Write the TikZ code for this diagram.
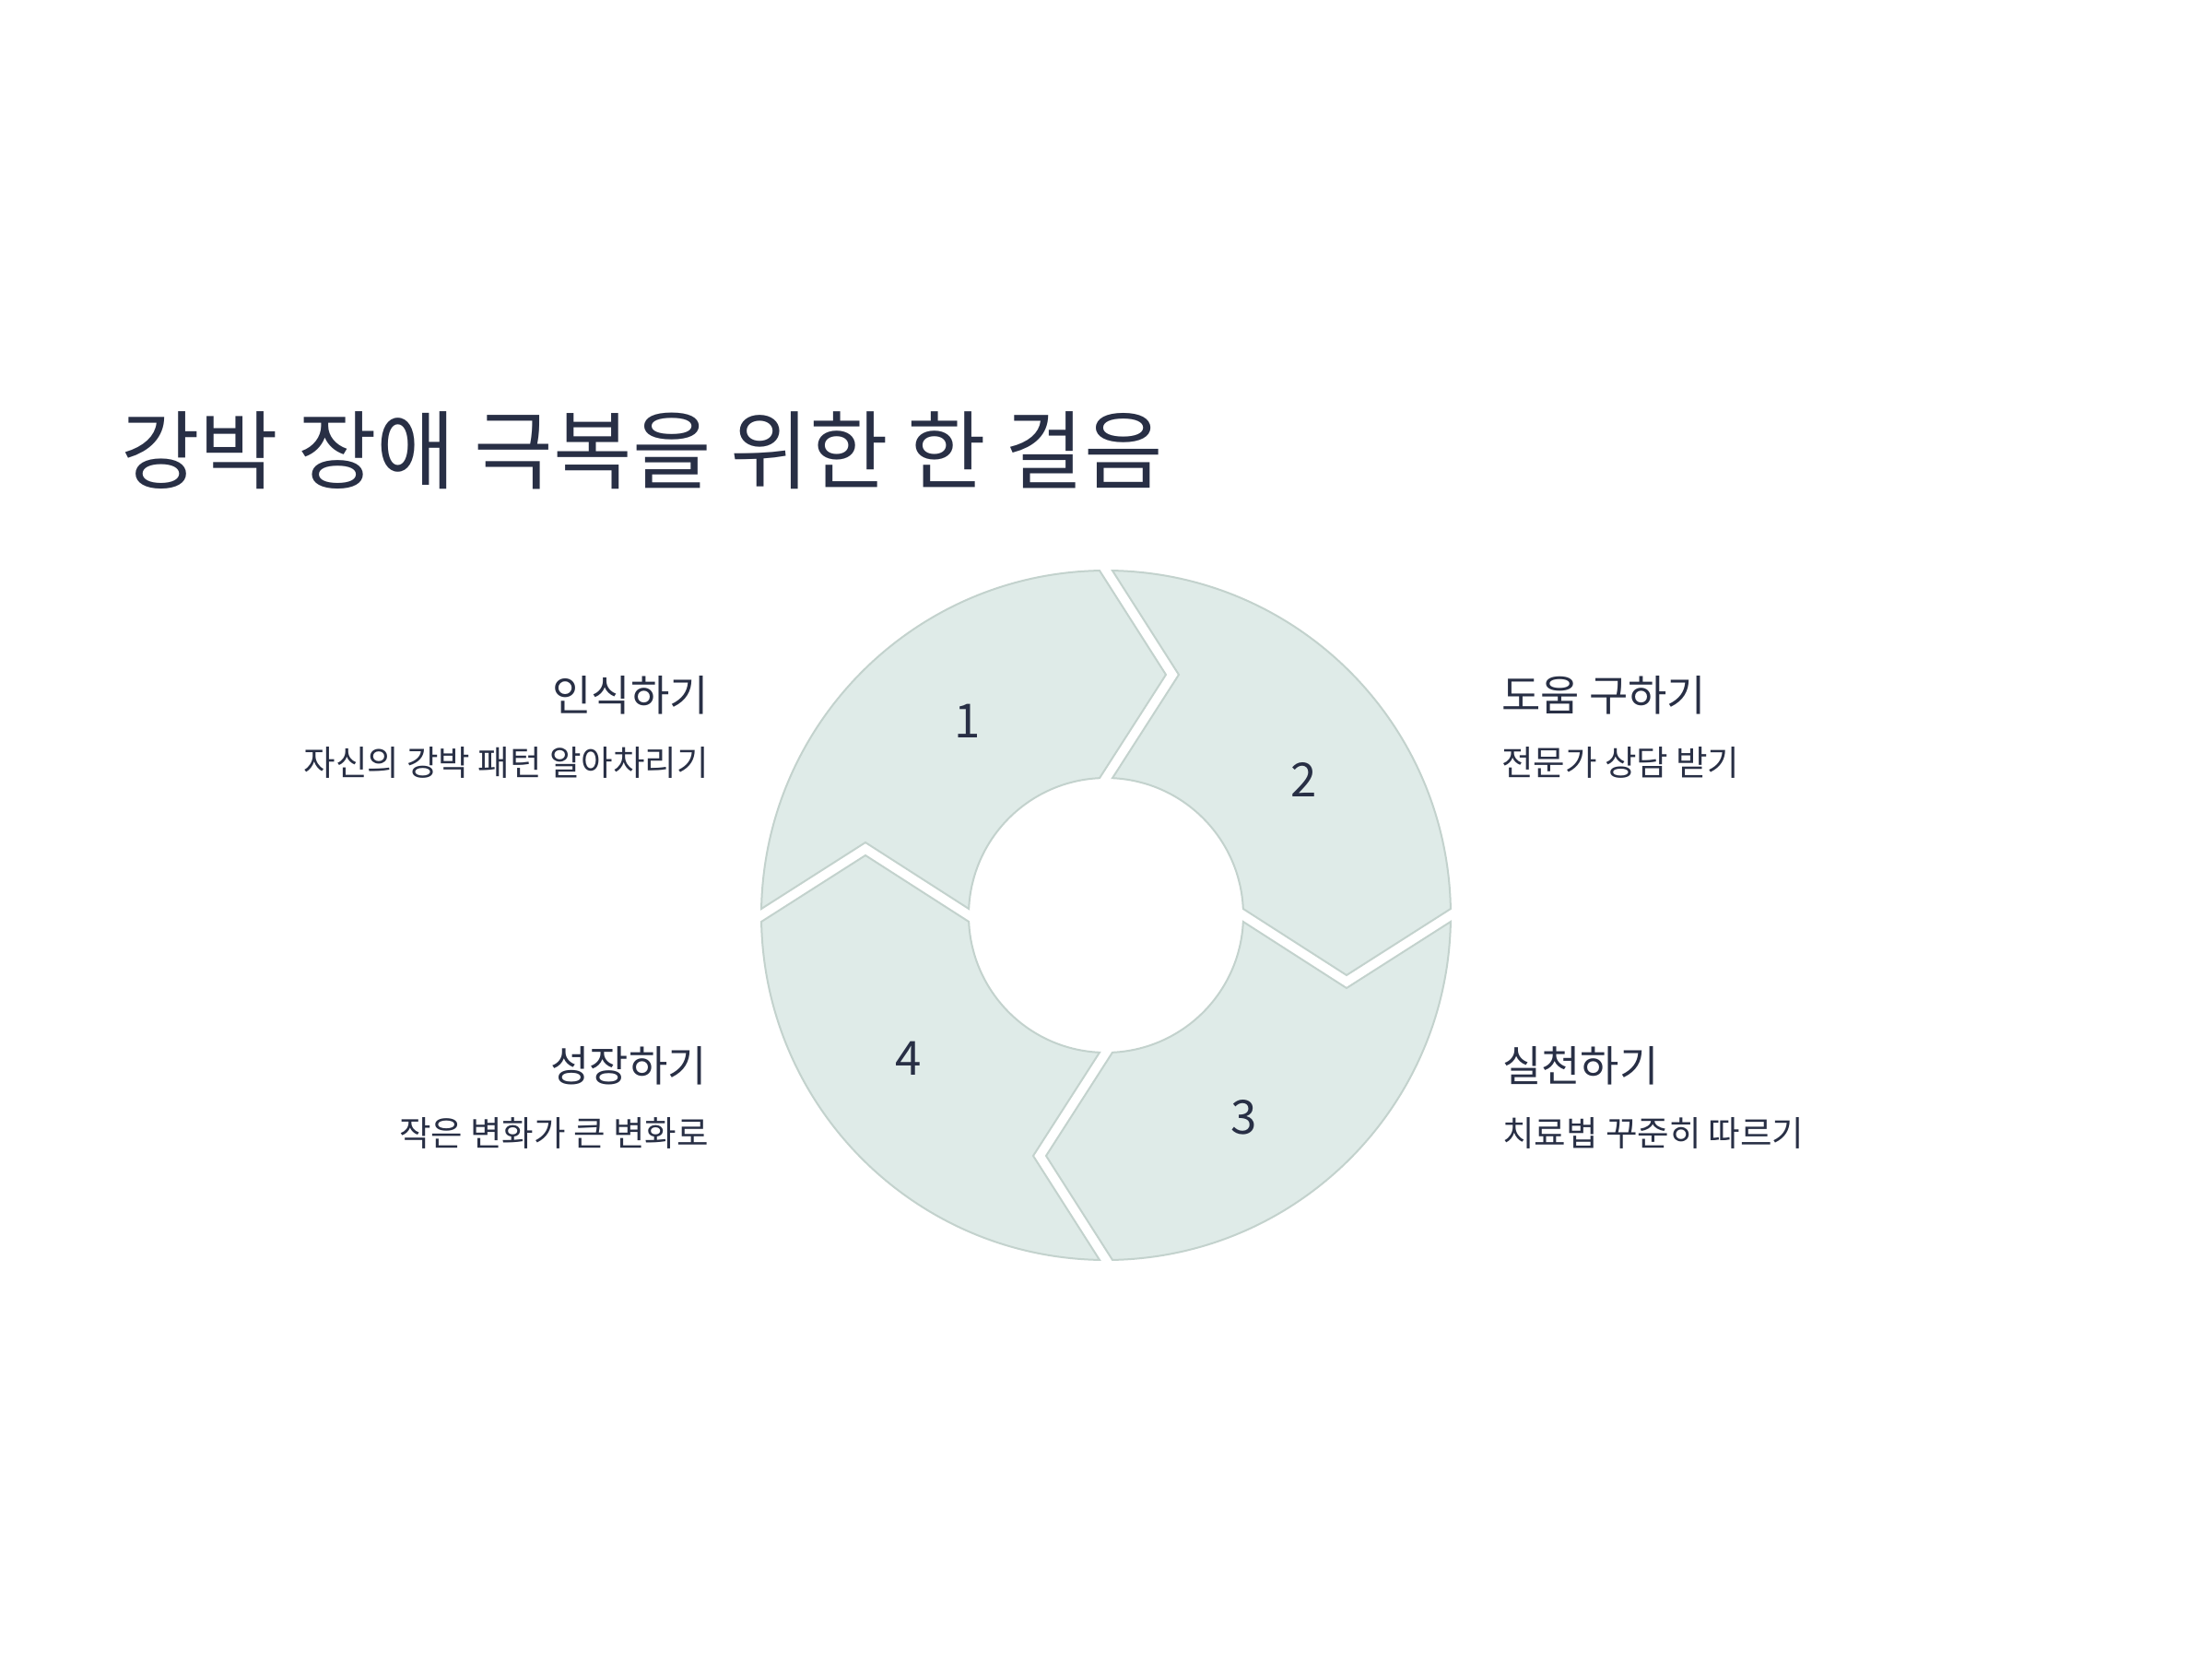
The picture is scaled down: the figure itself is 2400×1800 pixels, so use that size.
\documentclass[tikz,border=0pt]{standalone}
\usepackage{fontspec}
\setmainfont{Noto Sans CJK KR}
\usetikzlibrary{calc}
\definecolor{textc}{RGB}{40,47,69}
\definecolor{segfill}{RGB}{223,235,232}
\definecolor{segdraw}{RGB}{195,210,205}
\tikzset{
  seg/.style={fill=segfill,draw=segdraw,line width=2pt,line join=miter},
  numlbl/.style={text=textc,font=\fontsize{51}{60}\selectfont,inner sep=0pt,anchor=center},
  headlbl/.style={text=textc,font=\fontsize{46}{55}\selectfont,inner sep=0pt},
  sublbl/.style={text=textc,font=\fontsize{37.5}{45}\selectfont,inner sep=0pt},
  titlelbl/.style={text=textc,font=\fontsize{93}{110}\selectfont,inner sep=0pt,anchor=base west}
}
\newcommand{\ringseg}[2]{% #1 = ccw start angle, #2 = cw end angle
  \draw[seg] (#1-1.0725:374) arc[start angle=#1-1.0725, end angle=#2+1.0725, radius=374]
    -- ($(#2:261)+(#2-90:65)$)
    -- (#2+2.693:149) arc[start angle=#2+2.693, end angle=#1-2.693, radius=149]
    -- ($(#1:261)+(#1-90:79)$) -- cycle;
}
\begin{document}
\begin{tikzpicture}[x=1pt,y=1pt]
\useasboundingbox[fill=white] (-1200,-807) rectangle (1200,993);
\node[titlelbl] (title) at (-1069,469) {강박 장애 극복을 위한 한 걸음};
\ringseg{180}{90}
\ringseg{90}{0}
\ringseg{0}{-90}
\ringseg{-90}{-180}
\node[numlbl] (n1) at (-150,211) {1};
\node[numlbl] (n2) at (215,147) {2};
\node[numlbl] (n3) at (150,-219) {3};
\node[numlbl] (n4) at (-214,-155) {4};
\node[headlbl,anchor=base east] (h1) at (-431,222) {인식하기};
\node[sublbl,anchor=base east] (s1) at (-431,152) {자신의 강박 패턴 알아차리기};
\node[headlbl,anchor=base west] (h2) at (429,222) {도움 구하기};
\node[sublbl,anchor=base west] (s2) at (429,152) {전문가 상담 받기};
\node[headlbl,anchor=base east] (h4) at (-433,-180) {성장하기};
\node[sublbl,anchor=base east] (s4) at (-431,-250) {작은 변화가 큰 변화로};
\node[headlbl,anchor=base west] (h3) at (430,-180) {실천하기};
\node[sublbl,anchor=base west] (s3) at (430,-250) {치료법 꾸준히 따르기};
\end{tikzpicture}
\end{document}
